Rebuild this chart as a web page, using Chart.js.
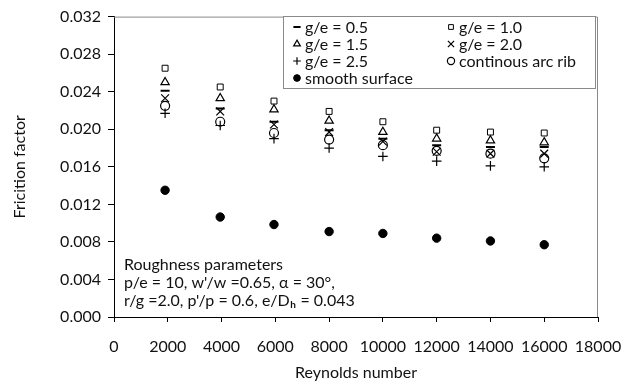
<!DOCTYPE html>
<html>
<head>
<meta charset="utf-8">
<script src="https://cdn.jsdelivr.net/npm/chart.js@4.4.1/dist/chart.umd.min.js"></script>
<style>
  body { margin: 0; background: #fff; }
</style>
</head>
<body>
<canvas id="myChart" width="638" height="387"></canvas>
<script>
// Reynolds numbers (x) and friction factor for each rib configuration
const reynolds = [1900, 3950, 5950, 8000, 10000, 12000, 14000, 16000];
const ge05   = [0.0241, 0.0222, 0.0208, 0.0199, 0.0190, 0.0183, 0.0181, 0.0181];
const ge10   = [0.0265, 0.0245, 0.0230, 0.0219, 0.0208, 0.0199, 0.0197, 0.0196];
const ge15   = [0.0250, 0.0233, 0.0221, 0.0209, 0.0197, 0.0190, 0.0188, 0.0186];
const ge20   = [0.0233, 0.0219, 0.0205, 0.0197, 0.0187, 0.0176, 0.0174, 0.0174];
const ge25   = [0.0217, 0.0204, 0.0190, 0.0180, 0.0171, 0.0166, 0.0161, 0.0160];
const arcRib = [0.0225, 0.0208, 0.0196, 0.0189, 0.0183, 0.0177, 0.0174, 0.0169];
const smooth = [0.0135, 0.01065, 0.00985, 0.0091, 0.0089, 0.0084, 0.0081, 0.0077];

const seriesNames = ["g/e = 0.5", "g/e = 1.0", "g/e = 1.5", "g/e = 2.0", "g/e = 2.5", "continous arc rib", "smooth surface"];
const xMax = 18000, xStep = 2000;
const yMax = 0.032, yStep = 0.004;
const noteLines = ["Roughness parameters", "p/e = 10, w'/w =0.65, \u03b1 = 30\u00b0,", "r/g =2.0, p'/p = 0.6, e/D"];

const FONT = "Lato, 'Open Sans', sans-serif";
const INK = "#111";

function pts(ys) {
  return reynolds.map((x, i) => ({ x: x, y: ys[i] }));
}

function ds(label, ys, style, radius, fill, width) {
  return {
    label: label,
    data: pts(ys),
    pointStyle: style,
    pointRadius: radius,
    pointHoverRadius: radius,
    pointBorderColor: "#000",
    pointBackgroundColor: fill ? "#000" : "rgba(0,0,0,0)",
    pointBorderWidth: width,
    showLine: false
  };
}

// plot area frame (top + right), legend box and the parameters note
const decorPlugin = {
  id: "decor",
  beforeDatasetsDraw(chart) {
    const { ctx, chartArea: a } = chart;
    ctx.save();
    ctx.strokeStyle = "#8a8a8a";
    ctx.lineWidth = 1;
    ctx.beginPath();
    ctx.moveTo(a.left, a.top + 0.5);
    ctx.lineTo(a.right - 0.5, a.top + 0.5);
    ctx.lineTo(a.right - 0.5, a.bottom);
    ctx.stroke();
    ctx.restore();
  },
  afterDatasetsDraw(chart) {
    const ctx = chart.ctx;
    ctx.save();
    // legend
    ctx.fillStyle = "#fff";
    ctx.fillRect(283, 16, 313, 72);
    ctx.strokeStyle = "#8a8a8a";
    ctx.lineWidth = 1;
    ctx.strokeRect(283.5, 16.5, 312, 72);
    ctx.font = "16px " + FONT;
    ctx.textBaseline = "middle";
    const rows = [27, 44, 61, 78];
    chart.data.datasets.forEach((d, i) => {
      const col = i === 6 ? 0 : i % 2;
      const row = i === 6 ? 3 : Math.floor(i / 2);
      const mx = col === 0 ? 297 : 451;
      const y = rows[row];
      ctx.strokeStyle = "#000";
      ctx.fillStyle = d.pointBackgroundColor;
      ctx.lineWidth = d.pointBorderWidth;
      Chart.helpers.drawPoint(ctx, { pointStyle: d.pointStyle, radius: d.pointRadius * 0.8, rotation: 0, borderWidth: d.pointBorderWidth }, mx, y);
      ctx.fillStyle = INK;
      ctx.fillText(d.label, mx + 8, y + 1);
    });
    // note
    ctx.font = "16px " + FONT;
    ctx.fillStyle = INK;
    const ny = [265, 283, 301];
    noteLines.forEach((t, i) => ctx.fillText(t, 124, ny[i]));
    let x = 124 + ctx.measureText(noteLines[2]).width;
    ctx.font = "bold 10px " + FONT;
    ctx.fillText("h", x + 0.5, ny[2] + 4);
    x += ctx.measureText("h").width + 1;
    ctx.font = "16px " + FONT;
    ctx.fillText(" = 0.043", x, ny[2]);
    ctx.restore();
  }
};

const ctx = document.getElementById("myChart").getContext("2d");
new Chart(ctx, {
  type: "scatter",
  data: {
    datasets: [
      ds(seriesNames[0], ge05, "line", 4.5, false, 2),
      ds(seriesNames[1], ge10, "rect", 4.2, false, 1),
      ds(seriesNames[2], ge15, "triangle", 4.8, false, 1.2),
      ds(seriesNames[3], ge20, "crossRot", 5.5, false, 1.2),
      ds(seriesNames[4], ge25, "cross", 4.8, false, 1.2),
      ds(seriesNames[5], arcRib, "circle", 4.5, false, 1.2),
      ds(seriesNames[6], smooth, "circle", 4.2, true, 1)
    ]
  },
  options: {
    responsive: false,
    animation: false,
    events: [],
    layout: { padding: { top: 12, right: 40, left: 0, bottom: 0 } },
    plugins: {
      legend: { display: false },
      tooltip: { enabled: false }
    },
    scales: {
      x: {
        type: "linear",
        min: 0,
        max: xMax,
        afterFit: (s) => { s.height = 70; },
        ticks: {
          stepSize: xStep,
          color: INK,
          font: { family: FONT, size: 16 },
          padding: 15,
          maxRotation: 0,
          callback: (v) => String(v)
        },
        grid: { drawOnChartArea: false, drawTicks: true, tickLength: 5, tickColor: "#000" },
        border: { display: true, color: "#000", width: 1 },
        title: { display: true, text: "Reynolds number", color: INK, font: { family: FONT, size: 16 }, padding: { top: 0, bottom: 5 } }
      },
      y: {
        min: 0,
        max: yMax,
        afterFit: (s) => { s.width = 114; },
        ticks: {
          stepSize: yStep,
          color: INK,
          font: { family: FONT, size: 16 },
          padding: 7,
          callback: (v) => v.toFixed(3)
        },
        grid: { drawOnChartArea: false, drawTicks: true, tickLength: 6, tickColor: "#000" },
        border: { display: true, color: "#000", width: 1 },
        title: { display: true, text: "Fricition factor", color: INK, font: { family: FONT, size: 16 }, padding: { top: 10, bottom: 0 } }
      }
    }
  },
  plugins: [decorPlugin]
});
</script>
</body>
</html>
